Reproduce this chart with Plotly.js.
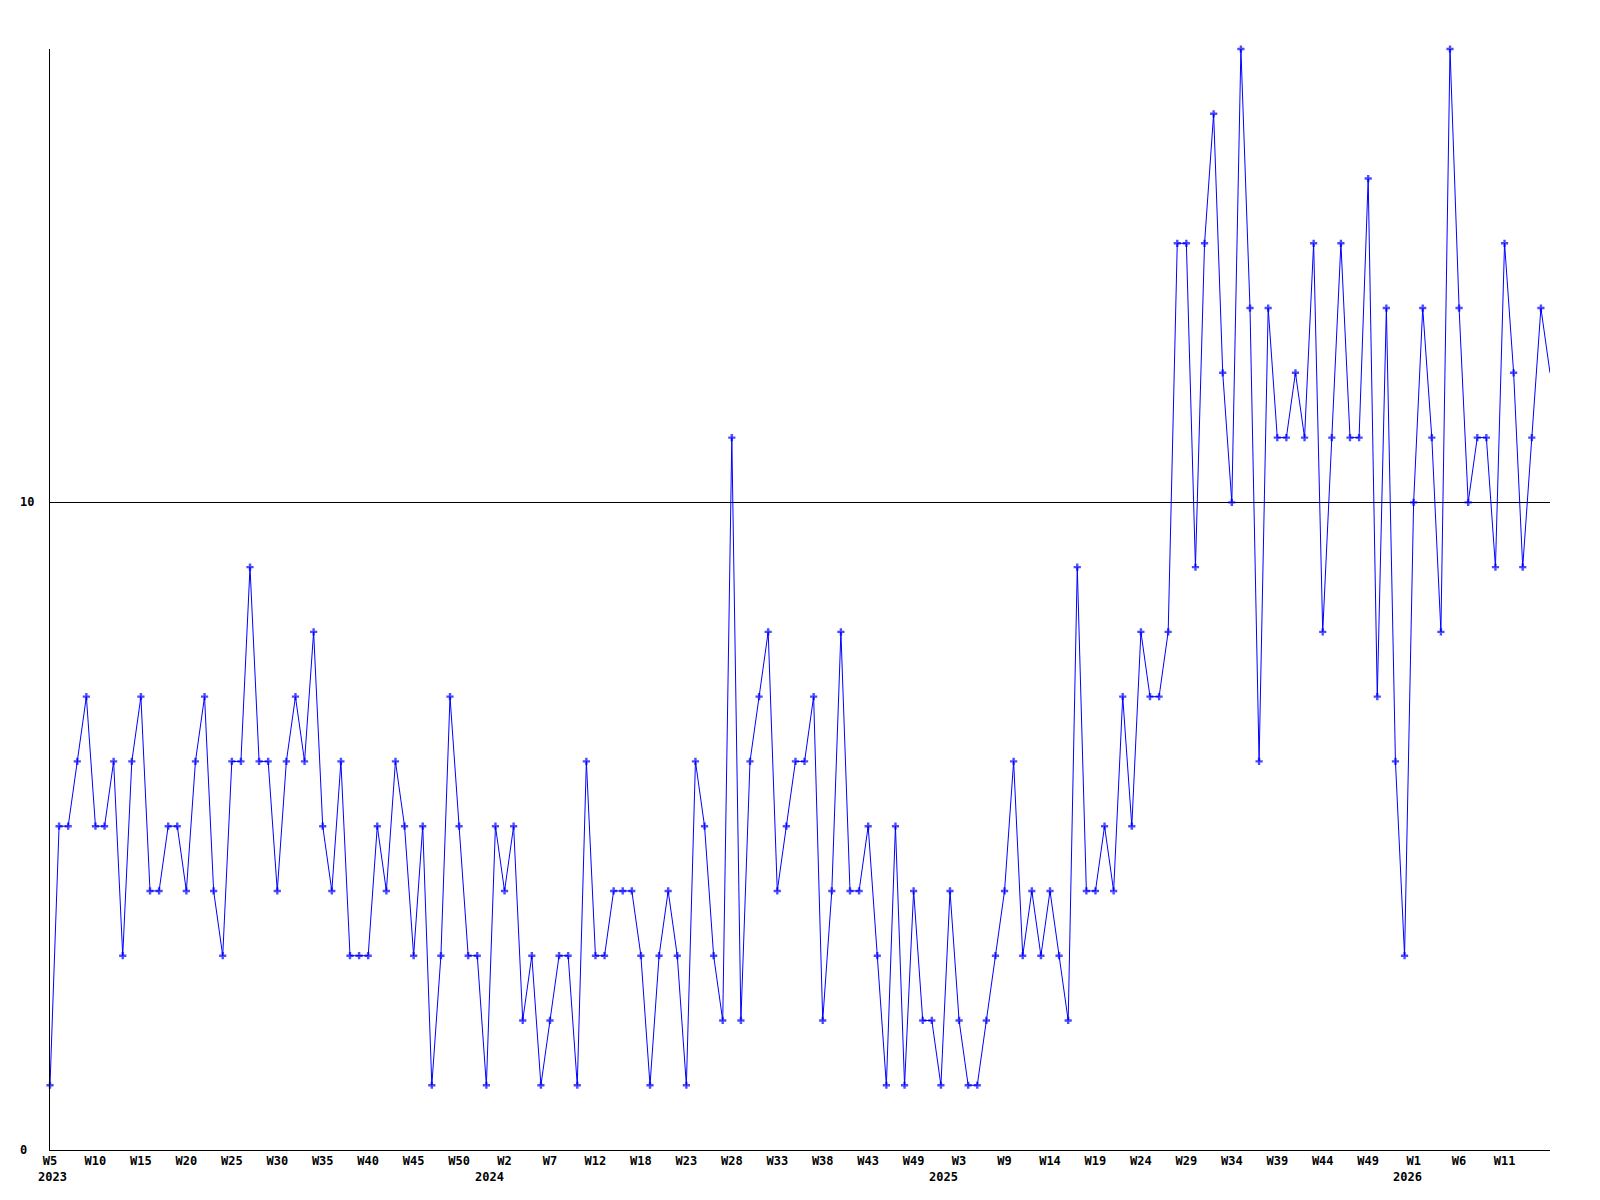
<!DOCTYPE html>
<html>
<head>
<meta charset="utf-8">
<script src="https://cdn.plot.ly/plotly-3.0.1.min.js"></script>
<style>
  html, body { margin: 0; padding: 0; background: #ffffff; }
  #chart { width: 1600px; height: 1200px; }
</style>
</head>
<body>
<div id="chart"></div>
<script>
// Weekly values, first point = week 5 of 2023
const weeklyValues = [
  1, 5, 5, 6, 7, 5, 5, 6, 3, 6,
  7, 4, 4, 5, 5, 4, 6, 7, 4, 3,
  6, 6, 9, 6, 6, 4, 6, 7, 6, 8,
  5, 4, 6, 3, 3, 3, 5, 4, 6, 5,
  3, 5, 1, 3, 7, 5, 3, 3, 1, 5,
  4, 5, 2, 3, 1, 2, 3, 3, 1, 6,
  3, 3, 4, 4, 4, 3, 1, 3, 4, 3,
  1, 6, 5, 3, 2, 11, 2, 6, 7, 8,
  4, 5, 6, 6, 7, 2, 4, 8, 4, 4,
  5, 3, 1, 5, 1, 4, 2, 2, 1, 4,
  2, 1, 1, 2, 3, 4, 6, 3, 4, 3,
  4, 3, 2, 9, 4, 4, 5, 4, 7, 5,
  8, 7, 7, 8, 14, 14, 9, 14, 16, 12,
  10, 17, 13, 6, 13, 11, 11, 12, 11, 14,
  8, 11, 14, 11, 11, 15, 7, 13, 6, 3,
  10, 13, 11, 8, 17, 13, 10, 11, 11, 9,
  14, 12, 9, 11, 13, 12
];

// Week tick labels (one every 5 points)
const weekLabels = [
  "W5", "W10", "W15", "W20", "W25", "W30", "W35", "W40", "W45", "W50",
  "W2", "W7", "W12", "W18", "W23", "W28", "W33", "W38", "W43", "W49",
  "W3", "W9", "W14", "W19", "W24", "W29", "W34", "W39", "W44", "W49",
  "W1", "W6", "W11"
];
const weekLabelStep = 5;

// Year labels and the point index they sit under
const yearLabels = ["2023", "2024", "2025", "2026"];
const yearLabelAt = [0.3, 48.3, 98.3, 149.3];

// Y axis tick values
const yTickValues = [0, 10];
const yMax = 17;

const xIdx = weeklyValues.map((v, i) => i);
const markerSizes = weeklyValues.map((v, i) => (i === weeklyValues.length - 1 ? 0 : 6));

const FONT = "'DejaVu Sans Mono', 'Liberation Mono', monospace";

const trace = {
  type: "scatter",
  mode: "lines+markers",
  x: xIdx,
  y: weeklyValues,
  line: { color: "#0000ff", width: 1 },
  marker: { symbol: "cross", size: markerSizes, color: "#0000ff", line: { width: 0 } },
  cliponaxis: false,
  hoverinfo: "x+y"
};

const annotations = [];
yTickValues.forEach(v => {
  annotations.push({
    xref: "paper", yref: "y",
    x: -32 / 1500, y: v,
    xanchor: "left", yanchor: "middle",
    text: String(v), showarrow: false,
    font: { family: FONT, size: 12, color: "#000000", weight: "bold" }
  });
});
yearLabels.forEach((t, i) => {
  annotations.push({
    xref: "x", yref: "paper",
    x: yearLabelAt[i], y: 0,
    xanchor: "center", yanchor: "middle",
    yshift: -27,
    text: t, showarrow: false,
    font: { family: FONT, size: 12, color: "#000000", weight: "bold" }
  });
});

const layout = {
  width: 1600,
  height: 1200,
  paper_bgcolor: "#ffffff",
  plot_bgcolor: "#ffffff",
  showlegend: false,
  margin: { l: 50, r: 50, t: 49, b: 50, pad: 0 },
  xaxis: {
    range: [0, weeklyValues.length - 1],
    tickmode: "array",
    tickvals: weekLabels.map((t, i) => i * weekLabelStep),
    ticktext: weekLabels,
    tickangle: 0,
    ticks: "",
    showgrid: false,
    zeroline: false,
    showline: true,
    linecolor: "#000000",
    linewidth: 1,
    tickfont: { family: FONT, size: 12, color: "#000000", weight: "bold" },
    ticklabelstandoff: 0,
    fixedrange: true
  },
  yaxis: {
    range: [0, yMax],
    tickmode: "array",
    tickvals: yTickValues,
    showticklabels: false,
    ticks: "",
    showgrid: true,
    gridcolor: "#000000",
    gridwidth: 1,
    zeroline: false,
    showline: true,
    linecolor: "#000000",
    linewidth: 1,
    fixedrange: true
  },
  annotations: annotations
};

Plotly.newPlot("chart", [trace], layout, { displayModeBar: false, staticPlot: true });
</script>
</body>
</html>
